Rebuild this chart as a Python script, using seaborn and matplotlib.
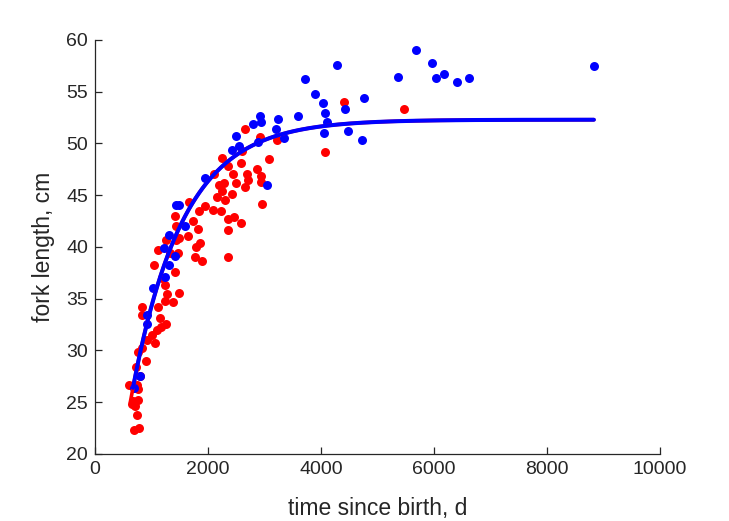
import numpy as np
import pandas as pd
import matplotlib
matplotlib.use("Agg")
import matplotlib.pyplot as plt
import seaborn as sns

# ---- data ----
blue_t = [8830, 5680, 5965, 6030, 6180, 6400, 6620, 5370, 4290, 3717, 3900, 4040,
          4075, 4110, 4050, 4480, 4730, 4765, 4430, 3600, 3245, 3210, 3345, 2920,
          2940, 2800, 2490, 2540, 2430, 2890, 1947, 3040, 1435, 1490, 1593, 1303,
          1221, 1421, 1303, 1245, 1032, 926, 926, 796, 690]
blue_L = [57.5, 59.0, 57.8, 56.3, 56.7, 55.9, 56.3, 56.4, 57.6, 56.2, 54.8, 53.9,
          52.9, 52.1, 51.0, 51.2, 50.3, 54.4, 53.3, 52.7, 52.4, 51.4, 50.5, 52.7,
          52.1, 51.9, 50.7, 49.8, 49.4, 50.1, 46.7, 46.0, 44.1, 44.1, 42.0, 41.2,
          39.9, 39.1, 38.3, 37.1, 36.0, 33.4, 32.6, 27.5, 26.4]

red_t = [4407, 5474, 4071, 2655, 2920, 3227, 2602, 2253, 3072, 2584, 2347, 2110,
         2435, 2690, 2870, 2942, 2188, 2499, 2701, 2942, 2283, 2655, 2248, 2430,
         2153, 2294, 1658, 2956, 1947, 1835, 2094, 2235, 1740, 2354, 2466, 2584,
         2360, 1421, 1434, 1823, 1640, 1493, 1257, 1858, 1788, 1115, 1463, 1775,
         1894, 2347, 1050, 1179, 1421, 1487, 1239, 1386, 837, 837, 1121, 1257,
         1161, 1090, 1002, 1062, 913, 825, 754, 903, 719, 602, 766, 659, 766,
         737, 690, 784, 1434, 1327, 1233, 1268, 1150, 737, 708, 796, 678]
red_L = [54.0, 53.3, 49.2, 51.4, 50.6, 50.3, 49.3, 48.6, 48.5, 48.1, 47.8, 47.1,
         47.1, 47.1, 47.5, 46.9, 46.0, 46.2, 46.5, 46.3, 46.2, 45.8, 45.4, 45.1,
         44.8, 44.5, 44.3, 44.2, 44.0, 43.5, 43.6, 43.5, 42.5, 42.7, 42.9, 42.3,
         41.6, 43.0, 42.0, 41.7, 41.1, 40.9, 40.7, 40.4, 40.0, 39.7, 39.4, 39.0,
         38.6, 39.0, 38.3, 37.0, 37.6, 35.6, 34.8, 34.7, 34.2, 33.4, 34.2, 32.6,
         32.3, 32.0, 31.5, 30.7, 31.0, 30.2, 29.9, 29.0, 28.4, 26.7, 26.3, 24.8,
         25.2, 23.8, 22.3, 22.5, 40.7, 39.4, 36.3, 35.5, 33.1, 26.7, 24.6, 27.5, 25.1]

# fitted von Bertalanffy growth curve parameters
L_inf = 52.3
k_growth = 0.001108
t0 = 38.0
fit_range_blue = (672, 8830)
fit_range_red = (625, 8830)

x_ticks = [0, 2000, 4000, 6000, 8000, 10000]
y_ticks = [20, 25, 30, 35, 40, 45, 50, 55, 60]


def vb(t):
    return L_inf * (1 - np.exp(-k_growth * (np.asarray(t) - t0)))


sns.set_style("white")
plt.rcParams['font.family'] = ['Liberation Sans', 'DejaVu Sans']

fig = plt.figure(figsize=(7.29, 5.21), dpi=100)
ax = fig.add_axes([95 / 729, 67 / 521, 565 / 729, 414 / 521])

red_df = pd.DataFrame({"t": red_t, "L": red_L})
blue_df = pd.DataFrame({"t": blue_t, "L": blue_L})

sns.scatterplot(data=red_df, x="t", y="L", color=(1, 0, 0), s=42, linewidth=0, ax=ax, zorder=2)
sns.scatterplot(data=blue_df, x="t", y="L", color=(0, 0, 1), s=42, linewidth=0, ax=ax, zorder=3)

tr = np.linspace(*fit_range_red, 400)
tb = np.linspace(*fit_range_blue, 400)
sns.lineplot(x=tr, y=vb(tr), color=(1, 0, 0), linewidth=2.6, ax=ax, zorder=4)
sns.lineplot(x=tb, y=vb(tb), color=(0, 0, 1), linewidth=2.9, ax=ax, zorder=5)

ax.set_xlim(0, 10000)
ax.set_ylim(20, 60)
ax.set_xticks(x_ticks)
ax.set_yticks(y_ticks)
ax.set_xticklabels([str(v) for v in x_ticks])
ax.set_yticklabels([str(v) for v in y_ticks])

axis_col = (0.15, 0.15, 0.15)
for side in ["top", "right"]:
    ax.spines[side].set_visible(False)
for side in ["left", "bottom"]:
    ax.spines[side].set_color(axis_col)
    ax.spines[side].set_linewidth(0.9)
ax.tick_params(direction="in", length=5, width=0.9, colors=axis_col,
               labelsize=14, pad=5, bottom=True, left=True)
ax.set_xlabel("time since birth, d", fontsize=16.5, color=axis_col, labelpad=14)
ax.set_ylabel("fork length, cm", fontsize=16.5, color=axis_col, labelpad=8)

fig.savefig("out.png", dpi=100)
